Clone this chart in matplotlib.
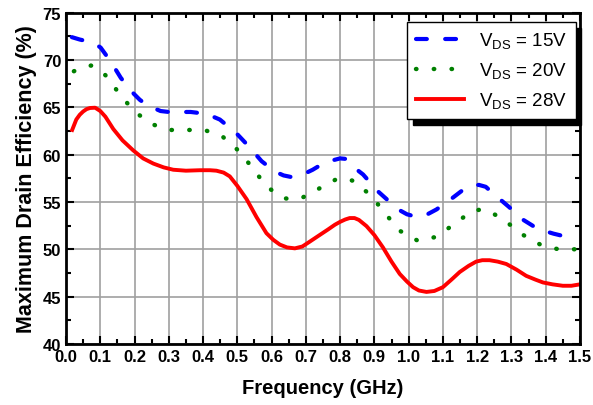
import matplotlib
matplotlib.use("Agg")
import matplotlib.pyplot as plt
from matplotlib.ticker import MultipleLocator

plt.rcParams['font.family'] = ['Liberation Sans', 'DejaVu Sans']
plt.rcParams['mathtext.fontset'] = 'custom'
plt.rcParams['mathtext.rm'] = 'Liberation Sans'

# V_DS = 15 V
f15 = [0.017, 0.04, 0.058, 0.08, 0.101, 0.131, 0.16, 0.193, 0.215, 0.237, 0.276, 0.3,
       0.323, 0.364, 0.41, 0.449, 0.496, 0.53, 0.571, 0.61, 0.635, 0.655, 0.682, 0.697,
       0.72, 0.743, 0.779, 0.8, 0.815, 0.828, 0.867, 0.911, 0.948, 0.975, 0.995, 1.015,
       1.034, 1.055, 1.081, 1.12, 1.165, 1.19, 1.205, 1.225, 1.253, 1.292, 1.335, 1.375,
       1.4, 1.423, 1.463, 1.48]
eff15 = [72.4, 72.15, 72.0, 71.8, 71.3, 69.8, 68.1, 66.6, 65.8, 65.2, 64.6, 64.5,
         64.5, 64.5, 64.3, 63.7, 62.3, 61.0, 59.3, 58.2, 57.8, 57.65, 57.8, 58.0,
         58.4, 58.9, 59.4, 59.6, 59.55, 59.0, 57.9, 56.1, 54.9, 54.1, 53.7, 53.5,
         53.45, 53.7, 54.2, 55.2, 56.45, 56.75, 56.8, 56.6, 55.7, 54.5, 53.1, 52.2,
         51.9, 51.65, 51.3, 51.2]

# V_DS = 20 V
f20 = [0.023, 0.05, 0.073, 0.095, 0.12, 0.158, 0.201, 0.252, 0.301, 0.354, 0.404, 0.457,
       0.507, 0.546, 0.585, 0.633, 0.66, 0.687, 0.738, 0.789, 0.815, 0.84, 0.891, 0.933,
       0.977, 1.027, 1.079, 1.131, 1.183, 1.21, 1.233, 1.285, 1.335, 1.389, 1.438, 1.489]
eff20 = [68.8, 69.2, 69.4, 69.1, 68.2, 66.3, 64.5, 63.2, 62.6, 62.6, 62.6, 61.9,
         60.3, 58.5, 56.65, 55.4, 55.3, 55.4, 56.4, 57.4, 57.5, 57.2, 55.65, 53.7,
         51.9, 50.9, 51.3, 52.6, 54.0, 54.2, 54.1, 52.9, 51.5, 50.4, 50.0, 50.0]

# V_DS = 28 V
f28 = [0.018, 0.03, 0.04, 0.05, 0.06, 0.07, 0.085, 0.1, 0.115, 0.138, 0.165, 0.196,
       0.225, 0.255, 0.285, 0.313, 0.35, 0.391, 0.42, 0.439, 0.46, 0.478, 0.5, 0.527,
       0.556, 0.585, 0.605, 0.624, 0.645, 0.668, 0.69, 0.711, 0.74, 0.765, 0.785, 0.8,
       0.815, 0.828, 0.842, 0.855, 0.877, 0.9, 0.925, 0.95, 0.974, 0.995, 1.013, 1.03,
       1.052, 1.075, 1.1, 1.125, 1.149, 1.175, 1.197, 1.215, 1.236, 1.26, 1.285, 1.315,
       1.343, 1.37, 1.392, 1.42, 1.45, 1.475, 1.5]
eff28 = [62.6, 63.7, 64.2, 64.55, 64.8, 64.92, 64.95, 64.6, 64.0, 62.7, 61.5, 60.45,
         59.6, 59.05, 58.65, 58.4, 58.3, 58.35, 58.35, 58.3, 58.1, 57.7, 56.7, 55.3,
         53.4, 51.7, 51.0, 50.5, 50.2, 50.1, 50.3, 50.8, 51.5, 52.1, 52.6, 52.9,
         53.15, 53.3, 53.3, 53.1, 52.45, 51.5, 50.2, 48.7, 47.4, 46.6, 46.0, 45.65,
         45.5, 45.6, 46.0, 46.8, 47.6, 48.25, 48.7, 48.85, 48.85, 48.7, 48.45, 47.85,
         47.2, 46.8, 46.5, 46.3, 46.15, 46.15, 46.3]

labels = [r'$\mathrm{V}_{\mathrm{DS}}$ = 15V', r'$\mathrm{V}_{\mathrm{DS}}$ = 20V',
          r'$\mathrm{V}_{\mathrm{DS}}$ = 28V']

fig = plt.figure(figsize=(5.93, 4.06), dpi=100)
ax = fig.add_axes([0.1113, 0.1502, 0.8667, 0.8165])

ax.plot(f15, eff15, color='#0000ff', lw=3, linestyle=(0, (2.6, 4.4)),
        dash_capstyle='round', label=labels[0])
ax.plot(f20, eff20, color='#008000', lw=3.2, linestyle=(0, (0.1, 3.9)),
        dash_capstyle='round', label=labels[1])
ax.plot(f28, eff28, color='#ff0000', lw=2.8, label=labels[2])

ax.set_xlim(0, 1.5)
ax.set_ylim(40, 75)
ax.xaxis.set_major_locator(MultipleLocator(0.1))
ax.xaxis.set_minor_locator(MultipleLocator(0.05))
ax.yaxis.set_major_locator(MultipleLocator(5))
ax.yaxis.set_minor_locator(MultipleLocator(2.5))
ax.set_xticklabels([f'{v:.1f}' for v in ax.get_xticks()])
ax.grid(True, which='major', color='#a0a0a0', lw=1.2)
ax.set_axisbelow(True)

ax.tick_params(which='both', direction='in', top=True, right=True, width=1.5,
               labelsize=12)
ax.tick_params(which='major', length=6)
ax.tick_params(which='minor', length=3.5)
for lab in ax.get_xticklabels() + ax.get_yticklabels():
    lab.set_fontweight('bold')
for s in ax.spines.values():
    s.set_linewidth(2)

ax.set_xlabel('Frequency (GHz)', fontsize=14.5, fontweight='bold', labelpad=10)
ax.set_ylabel('Maximum Drain Efficiency (%)', fontsize=15.5, fontweight='bold', labelpad=4)

leg = ax.legend(loc='upper right', bbox_to_anchor=(0.992, 0.97), fontsize=13.5,
                fancybox=False, framealpha=1, edgecolor='black', handlelength=2.6,
                borderaxespad=0, labelspacing=0.5, borderpad=0.45,
                shadow={'ox': 4, 'oy': -4, 'color': 'black', 'alpha': 1})
leg.get_frame().set_linewidth(1)

fig.savefig('out.png', dpi=100)
